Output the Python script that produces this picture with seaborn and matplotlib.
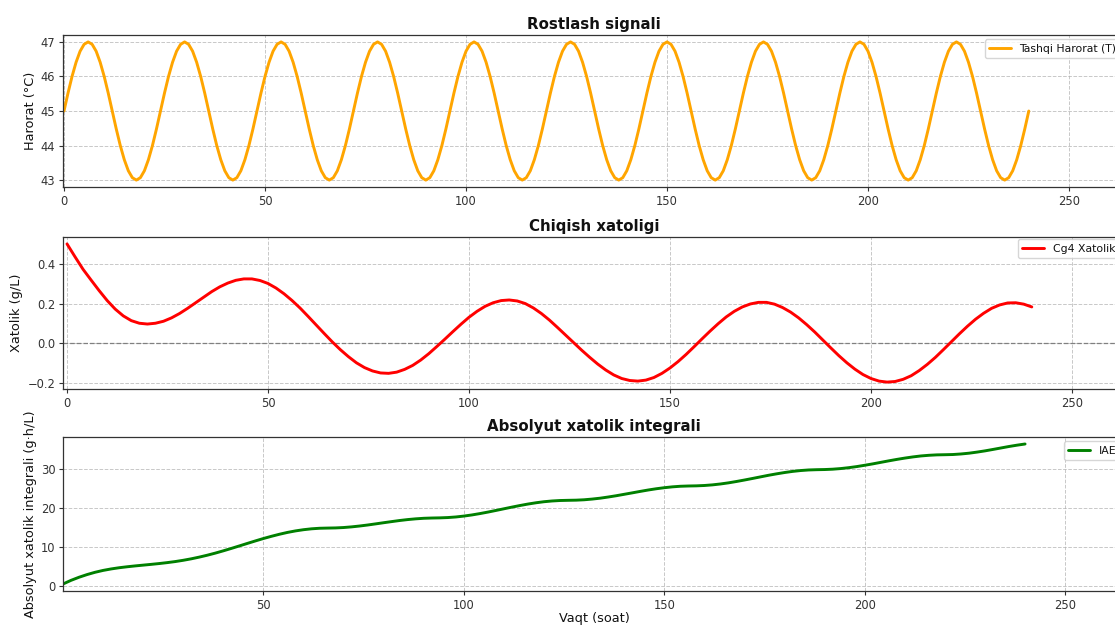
import numpy as np
import pandas as pd
import matplotlib
matplotlib.use("Agg")
import matplotlib.pyplot as plt
import seaborn as sns

# ---------------- data ----------------
# Panel 1: outside temperature, hourly (0..240 h)
temp_time = np.arange(0, 241)
temp_values = [
    45.00, 45.52, 46.00, 46.41, 46.73, 46.93, 47.00, 46.93, 46.73, 46.41, 46.00, 45.52,
    45.00, 44.48, 44.00, 43.59, 43.27, 43.07, 43.00, 43.07, 43.27, 43.59, 44.00, 44.48,
    45.00, 45.52, 46.00, 46.41, 46.73, 46.93, 47.00, 46.93, 46.73, 46.41, 46.00, 45.52,
    45.00, 44.48, 44.00, 43.59, 43.27, 43.07, 43.00, 43.07, 43.27, 43.59, 44.00, 44.48,
    45.00, 45.52, 46.00, 46.41, 46.73, 46.93, 47.00, 46.93, 46.73, 46.41, 46.00, 45.52,
    45.00, 44.48, 44.00, 43.59, 43.27, 43.07, 43.00, 43.07, 43.27, 43.59, 44.00, 44.48,
    45.00, 45.52, 46.00, 46.41, 46.73, 46.93, 47.00, 46.93, 46.73, 46.41, 46.00, 45.52,
    45.00, 44.48, 44.00, 43.59, 43.27, 43.07, 43.00, 43.07, 43.27, 43.59, 44.00, 44.48,
    45.00, 45.52, 46.00, 46.41, 46.73, 46.93, 47.00, 46.93, 46.73, 46.41, 46.00, 45.52,
    45.00, 44.48, 44.00, 43.59, 43.27, 43.07, 43.00, 43.07, 43.27, 43.59, 44.00, 44.48,
    45.00, 45.52, 46.00, 46.41, 46.73, 46.93, 47.00, 46.93, 46.73, 46.41, 46.00, 45.52,
    45.00, 44.48, 44.00, 43.59, 43.27, 43.07, 43.00, 43.07, 43.27, 43.59, 44.00, 44.48,
    45.00, 45.52, 46.00, 46.41, 46.73, 46.93, 47.00, 46.93, 46.73, 46.41, 46.00, 45.52,
    45.00, 44.48, 44.00, 43.59, 43.27, 43.07, 43.00, 43.07, 43.27, 43.59, 44.00, 44.48,
    45.00, 45.52, 46.00, 46.41, 46.73, 46.93, 47.00, 46.93, 46.73, 46.41, 46.00, 45.52,
    45.00, 44.48, 44.00, 43.59, 43.27, 43.07, 43.00, 43.07, 43.27, 43.59, 44.00, 44.48,
    45.00, 45.52, 46.00, 46.41, 46.73, 46.93, 47.00, 46.93, 46.73, 46.41, 46.00, 45.52,
    45.00, 44.48, 44.00, 43.59, 43.27, 43.07, 43.00, 43.07, 43.27, 43.59, 44.00, 44.48,
    45.00, 45.52, 46.00, 46.41, 46.73, 46.93, 47.00, 46.93, 46.73, 46.41, 46.00, 45.52,
    45.00, 44.48, 44.00, 43.59, 43.27, 43.07, 43.00, 43.07, 43.27, 43.59, 44.00, 44.48,
    45.00,
]

# Panel 2: Cg4 output error, every 2 h (0..240 h)
error_time = np.arange(0, 241, 2)
error_values = [
    0.500, 0.435, 0.372, 0.318, 0.265, 0.215, 0.172, 0.138, 0.114, 0.101,
    0.097, 0.101, 0.111, 0.128, 0.150, 0.176, 0.204, 0.232, 0.260, 0.284,
    0.303, 0.317, 0.324, 0.324, 0.316, 0.301, 0.278, 0.249, 0.215, 0.177,
    0.135, 0.092, 0.049, 0.007, -0.032, -0.067, -0.098, -0.122, -0.139, -0.149,
    -0.151, -0.145, -0.131, -0.111, -0.084, -0.052, -0.016, 0.021, 0.059, 0.096,
    0.131, 0.161, 0.186, 0.204, 0.215, 0.218, 0.213, 0.200, 0.178, 0.150,
    0.117, 0.080, 0.042, 0.004, -0.034, -0.070, -0.104, -0.134, -0.159, -0.177,
    -0.187, -0.190, -0.185, -0.172, -0.151, -0.124, -0.092, -0.056, -0.017, 0.023,
    0.062, 0.099, 0.133, 0.161, 0.183, 0.198, 0.206, 0.206, 0.197, 0.180,
    0.157, 0.128, 0.094, 0.057, 0.017, -0.023, -0.062, -0.098, -0.130, -0.157,
    -0.177, -0.190, -0.195, -0.192, -0.181, -0.163, -0.137, -0.106, -0.071, -0.032,
    0.008, 0.048, 0.086, 0.121, 0.151, 0.176, 0.193, 0.203, 0.204, 0.197,
    0.183,
]

# Panel 3: integral of absolute error (IAE), every 2 h (0..240 h)
iae_time = np.arange(0, 241, 2)
iae_values = [
    0.45, 1.39, 2.19, 2.88, 3.47, 3.95, 4.33, 4.64, 4.89, 5.11,
    5.31, 5.51, 5.72, 5.96, 6.23, 6.56, 6.94, 7.38, 7.87, 8.41,
    9.00, 9.62, 10.26, 10.91, 11.55, 12.17, 12.74, 13.27, 13.74, 14.13,
    14.44, 14.67, 14.81, 14.86, 14.90, 15.00, 15.17, 15.39, 15.65, 15.94,
    16.24, 16.53, 16.81, 17.05, 17.24, 17.38, 17.45, 17.49, 17.57, 17.72,
    17.95, 18.24, 18.59, 18.98, 19.40, 19.83, 20.26, 20.67, 21.05, 21.38,
    21.65, 21.84, 21.96, 22.01, 22.05, 22.15, 22.33, 22.56, 22.86, 23.19,
    23.56, 23.93, 24.31, 24.67, 24.99, 25.26, 25.48, 25.63, 25.70, 25.74,
    25.83, 25.99, 26.22, 26.51, 26.86, 27.24, 27.64, 28.05, 28.46, 28.83,
    29.17, 29.46, 29.68, 29.83, 29.90, 29.94, 30.03, 30.19, 30.42, 30.70,
    31.04, 31.40, 31.79, 32.18, 32.55, 32.89, 33.19, 33.44, 33.61, 33.72,
    33.76, 33.81, 33.95, 34.15, 34.43, 34.75, 35.12, 35.50, 35.88, 36.22,
    36.52,
]

titles = ["Rostlash signali", "Chiqish xatoligi", "Absolyut xatolik integrali"]
ylabels = ["Harorat (°C)", "Xatolik (g/L)", "Absolyut xatolik integrali (g·h/L)"]
labels = ["Tashqi Harorat (T)", "Cg4 Xatolik", "IAE"]
xlabel = "Vaqt (soat)"
xticks = [0, 50, 100, 150, 200, 250]

# ---------------- style ----------------
sns.set_style("ticks")
plt.rcParams["font.family"] = ["DejaVu Sans"]
plt.rcParams["axes.edgecolor"] = "#333333"
plt.rcParams["xtick.color"] = "#333333"
plt.rcParams["ytick.color"] = "#333333"
plt.rcParams["text.color"] = "#111111"
plt.rcParams["axes.labelcolor"] = "#111111"

W, H = 1115, 626
fig = plt.figure(figsize=(W / 100, H / 100), dpi=100)

RIGHT = 1125
PXU = 4.02  # pixels per hour on the x axis

def make_axes(top, bottom, x0_px, x0_val):
    ax = fig.add_axes([63 / W, (H - bottom) / H, (RIGHT - 63) / W, (bottom - top) / H])
    left_val = x0_val - (x0_px - 63) / PXU
    right_val = x0_val + (RIGHT - x0_px) / PXU
    ax.set_xlim(left_val, right_val)
    return ax

ax1 = make_axes(35, 187, 64, 0)
ax2 = make_axes(237, 389, 67, 0)
ax3 = make_axes(437, 591, 261, 50)

LW = 2.1
df1 = pd.DataFrame({"t": temp_time, "v": temp_values})
df2 = pd.DataFrame({"t": error_time, "v": error_values})
df3 = pd.DataFrame({"t": iae_time, "v": iae_values})

sns.lineplot(data=df1, x="t", y="v", ax=ax1, color="orange", linewidth=LW, label=labels[0])
ax2.axhline(0, color="gray", linestyle="--", linewidth=0.9, zorder=1)
sns.lineplot(data=df2, x="t", y="v", ax=ax2, color="red", linewidth=LW, label=labels[1])
sns.lineplot(data=df3, x="t", y="v", ax=ax3, color="green", linewidth=LW, label=labels[2])

for ax, title, yl in zip([ax1, ax2, ax3], titles, ylabels):
    ax.set_title(title, fontsize=10.8, fontweight="bold", pad=4.5)
    ax.set_ylabel(yl, fontsize=9.3, labelpad=3)
    ax.set_xlabel("")
    ax.set_xticks(xticks)
    ax.tick_params(axis="both", labelsize=8.3, length=3, width=0.8, pad=2.5)
    ax.grid(True, linestyle="--", color="#b0b0b0", linewidth=0.7, alpha=0.7)
    for s in ax.spines.values():
        s.set_visible(True)
        s.set_linewidth(0.9)

ax1.set_yticks([43, 44, 45, 46, 47])
ax2.set_yticks([-0.2, 0.0, 0.2, 0.4])
ax3.set_yticks([0, 10, 20, 30])
ax3.set_xticks([50, 100, 150, 200, 250])
ax3.set_xlabel(xlabel, fontsize=9.3, labelpad=0.5)

leg_kw = dict(fontsize=7.8, frameon=True, framealpha=0.8, edgecolor="#cccccc",
              handlelength=2.0, borderpad=0.4, fancybox=True)
ax1.legend(loc="upper right", borderaxespad=0.4, **leg_kw)
ax2.legend(loc="upper left", bbox_to_anchor=((1018 - 63) / (RIGHT - 63), 0.985),
           borderaxespad=0, **leg_kw)
ax3.legend(loc="upper right", borderaxespad=0.4, **leg_kw)

fig.savefig("out.png", dpi=100)
